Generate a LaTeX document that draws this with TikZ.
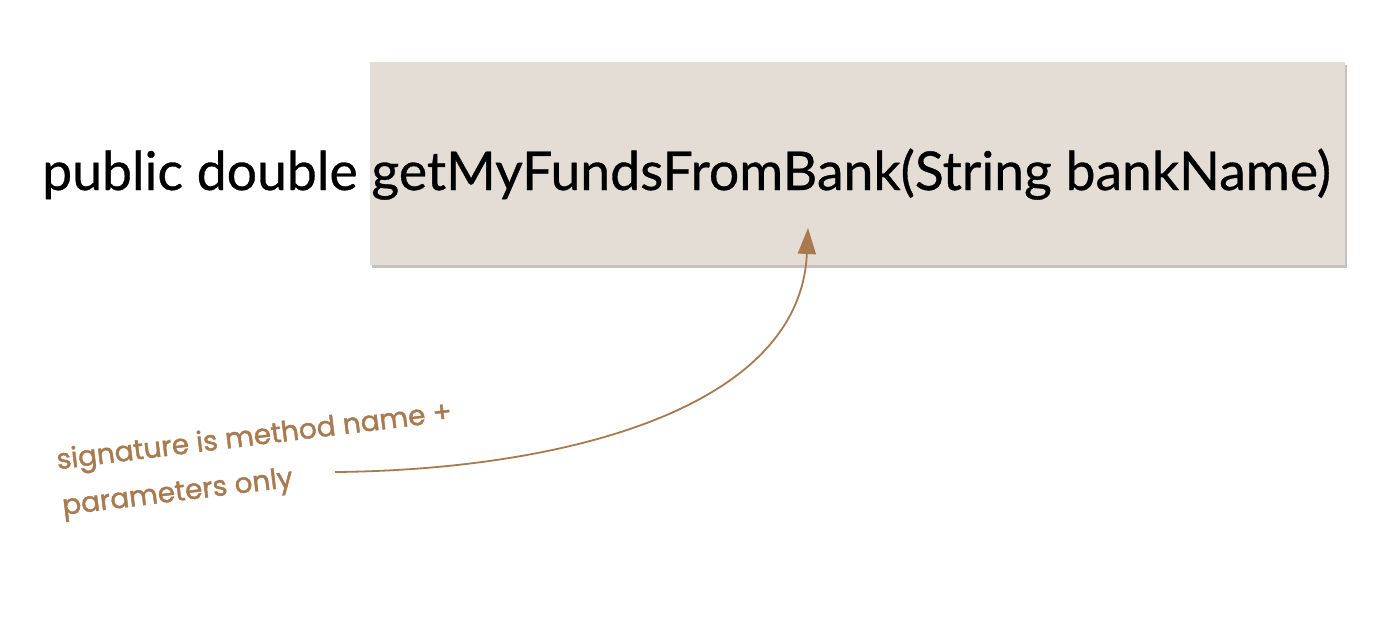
\documentclass[tikz,border=0pt]{standalone}
\usepackage{fontspec}
\setmainfont[FakeBold=0.6]{Lato}
\newfontfamily\notefont[FakeBold=1.5]{Poppins}
\usetikzlibrary{arrows.meta,shadows}
\definecolor{boxfill}{RGB}{227,221,214}
\definecolor{notebrown}{RGB}{168,122,80}
\tikzset{
  sigbox/.style={fill=boxfill, draw=none, minimum width=975pt, minimum height=203pt, anchor=north west, inner sep=0pt,
    drop shadow={shadow xshift=2pt, shadow yshift=-3pt, fill=black!40, opacity=0.6}},
  sigtext/.style={font=\fontsize{53.5}{60}\selectfont, text=black, inner sep=0pt, anchor=base west},
  notetext/.style={font=\notefont\fontsize{28}{46}\selectfont, text=notebrown, align=left, inner sep=0pt, rotate=7, anchor=north west},
  notearrow/.style={draw=notebrown, line width=1.8pt, -{Triangle[length=26pt,width=18pt]}}
}
\begin{document}
\begin{tikzpicture}[x=1pt,y=-1pt]
\useasboundingbox (0,0) rectangle (1390,630);
\node[sigbox] (box) at (370,62) {};
\node[sigtext] (sig) at (42,190) {public double getMyFundsFromBank(String bankName)};
\node[notetext] (note) at (55,448) {signature is method name +\\parameters only};
\coordinate (start) at (335,472);
\coordinate (tip) at (808,228);
\draw[notearrow] (start) .. controls (560,470) and (800,410) .. (tip);
\end{tikzpicture}
\end{document}
